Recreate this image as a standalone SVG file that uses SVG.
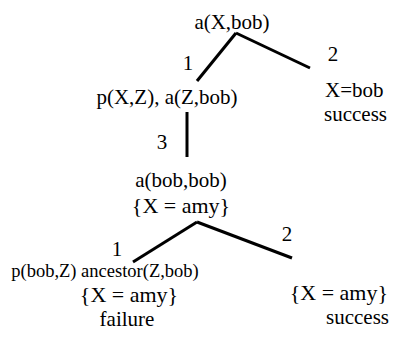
<svg xmlns="http://www.w3.org/2000/svg" width="394" height="339" viewBox="0 0 394 339">
<style>
text{font-family:"Liberation Serif","Times New Roman",serif;font-size:21px;fill:#000;text-anchor:middle}
.s{text-anchor:start}
.r{text-anchor:end}
.w{font-size:22px}
.e{stroke:#000;stroke-width:3;fill:none}
</style>
<rect width="394" height="339" fill="#fff"/>
<g id="connectors">
<line class="e" x1="236" y1="33" x2="197" y2="81"/>
<line class="e" x1="236" y1="33" x2="310" y2="68"/>
<line class="e" x1="187" y1="112" x2="187" y2="157"/>
<line class="e" x1="197" y1="222" x2="133" y2="262"/>
<line class="e" x1="197" y1="222" x2="292" y2="258"/>
<text x="188" y="70">1</text>
<text x="333" y="61">2</text>
<text x="162" y="149">3</text>
<text x="117" y="256">1</text>
<text x="287" y="241">2</text>
</g>
<g id="n0"><text x="232" y="29">a(X,bob)</text></g>
<g id="n1"><text x="167" y="104">p(X,Z), a(Z,bob)</text></g>
<g id="n2"><text class="s" x="325" y="97">X=bob</text><text class="s" x="324" y="121">success</text></g>
<g id="n3"><text x="181" y="187">a(bob,bob)</text><text class="w" x="181" y="213">{X = amy}</text></g>
<g id="n4"><text x="105" y="277" style="font-size:18.5px">p(bob,Z) ancestor(Z,bob)</text><text class="w" x="129" y="302">{X = amy}</text><text x="127" y="326">failure</text></g>
<g id="n5"><text class="r w" x="388" y="300">{X = amy}</text><text class="r" x="389" y="324">success</text></g>
</svg>
